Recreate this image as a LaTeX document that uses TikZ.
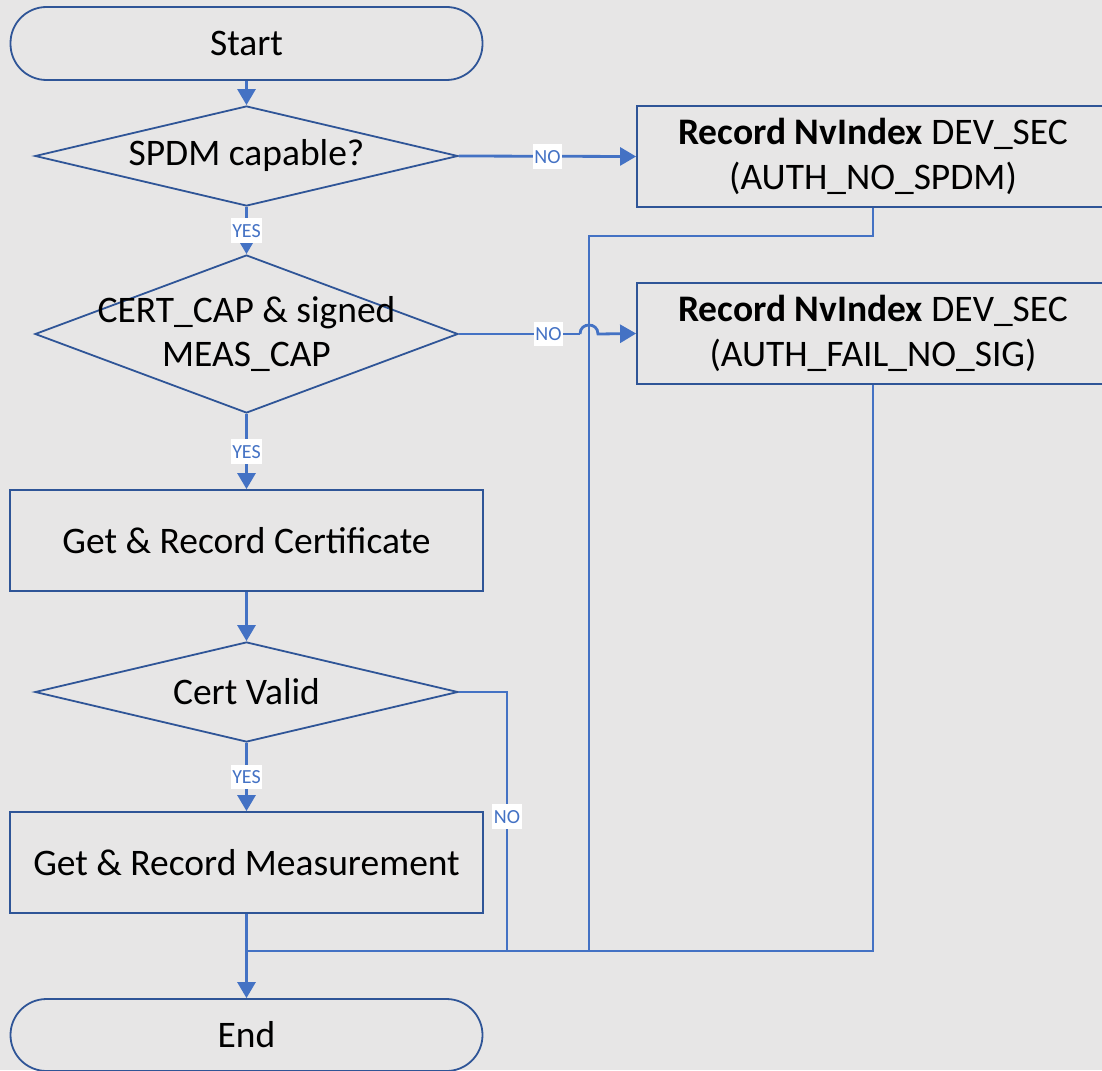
\documentclass[tikz,border=0pt]{standalone}
\usepackage{fontspec}
\setmainfont{Carlito}
\usetikzlibrary{arrows.meta,shapes.geometric}
\definecolor{bgc}{HTML}{E7E6E6}
\definecolor{shp}{HTML}{2F5597}
\definecolor{conn}{HTML}{4472C4}
\tikzset{
  every node/.style={font=\fontsize{37.5}{44.5}\selectfont, text=black},
  term/.style={draw=shp, line width=1.8pt, rectangle, rounded corners=36pt, minimum width=472pt, minimum height=73pt, inner sep=0pt},
  procbox/.style={draw=shp, line width=1.8pt, rectangle, minimum width=473pt, minimum height=101pt, inner sep=0pt, align=center},
  decision/.style={draw=shp, line width=1.8pt, diamond, minimum width=423pt, inner sep=0pt},
  dtext/.style={align=center, inner sep=0pt},
  conline/.style={draw=conn, line width=2.8pt},
  arr/.style={conline, -{Triangle[length=16pt,width=18pt]}},
  lbl/.style={fill=white, text=conn, font=\fontsize{20}{21}\selectfont, inner xsep=1.5pt, inner ysep=5.5pt, text height=13.5pt, text depth=0pt}
}
\begin{document}
\begin{tikzpicture}[x=1pt,y=-1pt]
\fill[bgc] (0,0) rectangle (1102,1070);
\useasboundingbox (0,0) rectangle (1102,1070);

\node[term] (start) at (246.5,43.5) {Start};
\node[decision, minimum height=100pt] (d1) at (246.5,156) {};
\node[dtext] (d1t) at (d1.center) {SPDM capable?};
\node[decision, minimum height=158pt] (d2) at (246.5,334) {};
\node[dtext] (d2t) at (d2.center) {CERT\_CAP \& signed\\MEAS\_CAP};
\node[procbox] (cert) at (246.5,540.5) {Get \& Record Certificate};
\node[decision, minimum height=100pt] (d3) at (246.5,692) {};
\node[dtext] (d3t) at (d3.center) {Cert Valid};
\node[procbox] (meas) at (246.5,862.5) {Get \& Record Measurement};
\node[term, minimum height=72pt] (end) at (246.5,1035) {End};

\node[procbox, minimum width=472pt] (r1) at (873,156.5) {\textbf{Record NvIndex} DEV\_SEC\\(AUTH\_NO\_SPDM)};
\node[procbox, minimum width=472pt] (r2) at (873,333.5) {\textbf{Record NvIndex} DEV\_SEC\\(AUTH\_FAIL\_NO\_SIG)};

\coordinate (bus) at (246.5,951);
\coordinate (j1) at (589,236);
\coordinate (hopa) at (580,334);
\coordinate (hopb) at (598,334);

% main flow
\draw[arr] (start.south) -- (d1.north);
\draw[arr] (d1.south) -- node[lbl] (y1) {YES} (d2.north);
\draw[arr] (d2.south) -- node[lbl] (y2) {YES} (cert.north);
\draw[arr] (cert.south) -- (d3.north);
\draw[arr] (d3.south) -- node[lbl] (y3) {YES} (meas.north);
\draw[arr] (meas.south) -- (end.north);

% return lines
\draw[conline] (r1.south) |- (j1) -- (j1 |- bus);
\draw[conline] (r2.south) |- (bus);
\draw[conline] (d3.east) -| node[lbl, pos=0.74] (n3) {NO} (bus -| 507,0);

% NO branches
\draw[arr] (d1.east) -- node[lbl] (n1) {NO} (r1.west);
\draw[conline] (d2.east) -- node[lbl, pos=0.74] (n2) {NO} (hopa);
\draw[arr] (hopa) .. controls (580,322) and (598,322) .. (hopb) -- (r2.west);
\end{tikzpicture}
\end{document}
